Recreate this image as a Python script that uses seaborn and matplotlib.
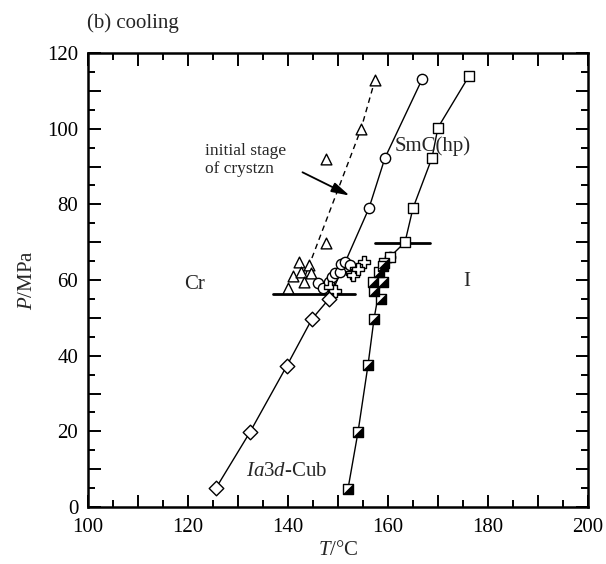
import numpy as np
import pandas as pd
import seaborn as sns
import matplotlib
matplotlib.use("Agg")
import matplotlib.pyplot as plt
from matplotlib.path import Path

# ---- data (T in degC, P in MPa) ----
# Ia3d-Cub -> Cr boundary (open diamonds)
diamond_T = [125.6, 132.4, 139.8, 144.8, 148.2]
diamond_P = [5.0, 19.8, 37.4, 49.7, 55.0]

# SmC(hp) -> Cr boundary (open circles)
circle_T = [146.0, 147.0, 148.2, 148.8, 149.4, 150.4, 150.6, 151.4, 152.4, 160.4, 156.2, 159.4, 166.8]
circle_P = [59.2, 58.0, 59.5, 60.8, 61.9, 62.1, 64.2, 64.8, 64.0, 66.1, 79.0, 92.3, 113.0]
circle_line_T = [156.2, 159.4, 166.8]
circle_line_P = [79.0, 92.3, 113.0]

# initial stage of crystallization (open triangles)
tri_T = [140.0, 141.0, 142.2, 142.6, 143.2, 144.2, 144.6, 147.6, 147.6, 154.6, 157.4]
tri_P = [57.9, 61.0, 64.8, 62.1, 59.5, 64.0, 61.9, 69.8, 92.0, 99.9, 112.9]
tri_line_T = [143.4, 154.6, 157.4]
tri_line_P = [61.0, 99.9, 112.9]

# open crosses
cross_T = [148.4, 149.4, 152.8, 153.0, 155.2, 154.0]
cross_P = [58.2, 57.1, 61.9, 61.3, 64.8, 62.8]

# I -> SmC(hp) boundary (open squares)
square_T = [160.4, 163.4, 165.0, 168.8, 170.0, 176.2]
square_P = [66.1, 70.0, 79.0, 92.3, 100.3, 113.9]

# I -> Ia3d-Cub boundary (half-filled squares)
half_T = [152.0, 154.0, 156.0, 157.2, 158.6, 157.2, 157.0, 159.0, 158.2, 159.2, 159.0]
half_P = [4.8, 19.8, 37.5, 49.7, 55.0, 57.0, 59.5, 59.5, 62.1, 64.5, 63.6]
half_line_T = [152.0, 154.0, 156.0, 157.2, 159.2]
half_line_P = [4.8, 19.8, 37.5, 49.7, 64.5]

# horizontal transition bars
cr_bar_T = [137.0, 153.4]
cr_bar_P = [56.3, 56.3]
i_bar_T = [157.4, 168.4]
i_bar_P = [69.8, 69.8]

x_ticks = [100, 120, 140, 160, 180, 200]
y_ticks = [0, 20, 40, 60, 80, 100, 120]

# ---- style ----
sns.set_theme(style="ticks")
plt.rcParams["font.family"] = ["Liberation Serif", "DejaVu Serif"]
plt.rcParams["mathtext.fontset"] = "custom"
plt.rcParams["mathtext.rm"] = "Liberation Serif"
plt.rcParams["mathtext.it"] = "Liberation Serif:italic"
plt.rcParams["axes.linewidth"] = 1.8

fig = plt.figure(figsize=(6.06, 5.64), dpi=100)
ax = fig.add_axes([88 / 606, 1 - 507 / 564, 500 / 606, 454 / 564])

line_kw = dict(color="black", lw=1.0, sort=False, estimator=None, legend=False)

# boundary lines
sns.lineplot(x=diamond_T + circle_line_T, y=diamond_P + circle_line_P, ax=ax, **line_kw)
sns.lineplot(x=half_line_T + square_T, y=half_line_P + square_P, ax=ax, **line_kw)
sns.lineplot(x=tri_line_T, y=tri_line_P, ax=ax, linestyle=(0, (4, 3)), **line_kw)
sns.lineplot(x=cr_bar_T, y=cr_bar_P, ax=ax, color="black", lw=2.0, estimator=None, legend=False)
sns.lineplot(x=i_bar_T, y=i_bar_P, ax=ax, color="black", lw=2.0, estimator=None, legend=False)

open_kw = dict(facecolor="white", edgecolor="black", linewidth=1.0, legend=False, zorder=3)
sns.scatterplot(x=tri_T, y=tri_P, marker="^", s=60, ax=ax, **open_kw)
sns.scatterplot(x=circle_T, y=circle_P, marker="o", s=55, ax=ax, **open_kw)
sns.scatterplot(x=cross_T, y=cross_P, marker="P", s=75, ax=ax, **open_kw)
sns.scatterplot(x=diamond_T, y=diamond_P, marker="D", s=55, ax=ax, **open_kw)
sns.scatterplot(x=square_T, y=square_P, marker="s", s=55, ax=ax, **open_kw)

# half-filled squares: white square with a black lower-right triangle
lower_right = Path([(-1, -1), (1, -1), (1, 1), (-1, -1)],
                   [Path.MOVETO, Path.LINETO, Path.LINETO, Path.CLOSEPOLY])
sns.scatterplot(x=half_T, y=half_P, marker="s", s=55, ax=ax, **open_kw)
sns.scatterplot(x=half_T, y=half_P, marker=lower_right, s=55, ax=ax,
                facecolor="black", edgecolor="black", linewidth=0.6, legend=False, zorder=4)

# ---- axes ----
ax.set_xlim(100, 200)
ax.set_ylim(0, 120)
# long ticks every 10, short ticks every 5, labels every 20
ax.set_xticks(np.arange(100, 201, 10))
ax.set_xticklabels([str(v) if v in x_ticks else "" for v in range(100, 201, 10)])
ax.set_yticks(np.arange(0, 121, 10))
ax.set_yticklabels([str(v) if v in y_ticks else "" for v in range(0, 121, 10)])
ax.set_xticks(np.arange(105, 200, 10), minor=True)
ax.set_yticks(np.arange(5, 120, 10), minor=True)
ax.xaxis.set_minor_formatter(plt.NullFormatter())
ax.yaxis.set_minor_formatter(plt.NullFormatter())
ax.tick_params(which="both", direction="in", top=True, right=True, width=1.4,
               labelsize=15, colors="black")
ax.tick_params(axis="x", which="major", pad=8)
ax.tick_params(axis="y", which="major", pad=7)
ax.tick_params(which="major", length=9)
ax.tick_params(which="minor", length=5)
for s in ax.spines.values():
    s.set_color("black")

ax.set_xlabel("$T$/°C", fontsize=15, labelpad=3)
ax.set_ylabel("$P$/MPa", fontsize=15, labelpad=7)

# ---- annotations ----
ax.text(121.4, 58.7, "Cr", fontsize=15, ha="center", va="center")
ax.text(175.8, 59.5, "I", fontsize=15, ha="center", va="center")
ax.text(161.4, 95.3, "SmC(hp)", fontsize=15, ha="left", va="center")
ax.text(139.8, 9.5, r"$\mathit{Ia3d}$-Cub", fontsize=15, ha="center", va="center")
ax.text(123.4, 91.7, "initial stage\nof crystzn", fontsize=12.5, ha="left", va="center",
        linespacing=1.1)
ax.annotate("", xy=(152.8, 82.0), xytext=(142.4, 88.8),
            arrowprops=dict(arrowstyle="-|>,head_length=0.9,head_width=0.25",
                            color="black", lw=1.3))

fig.text(87 / 606, 1 - 23 / 564, "(b) cooling", fontsize=15, ha="left", va="center")

fig.savefig("out.png", dpi=100)
